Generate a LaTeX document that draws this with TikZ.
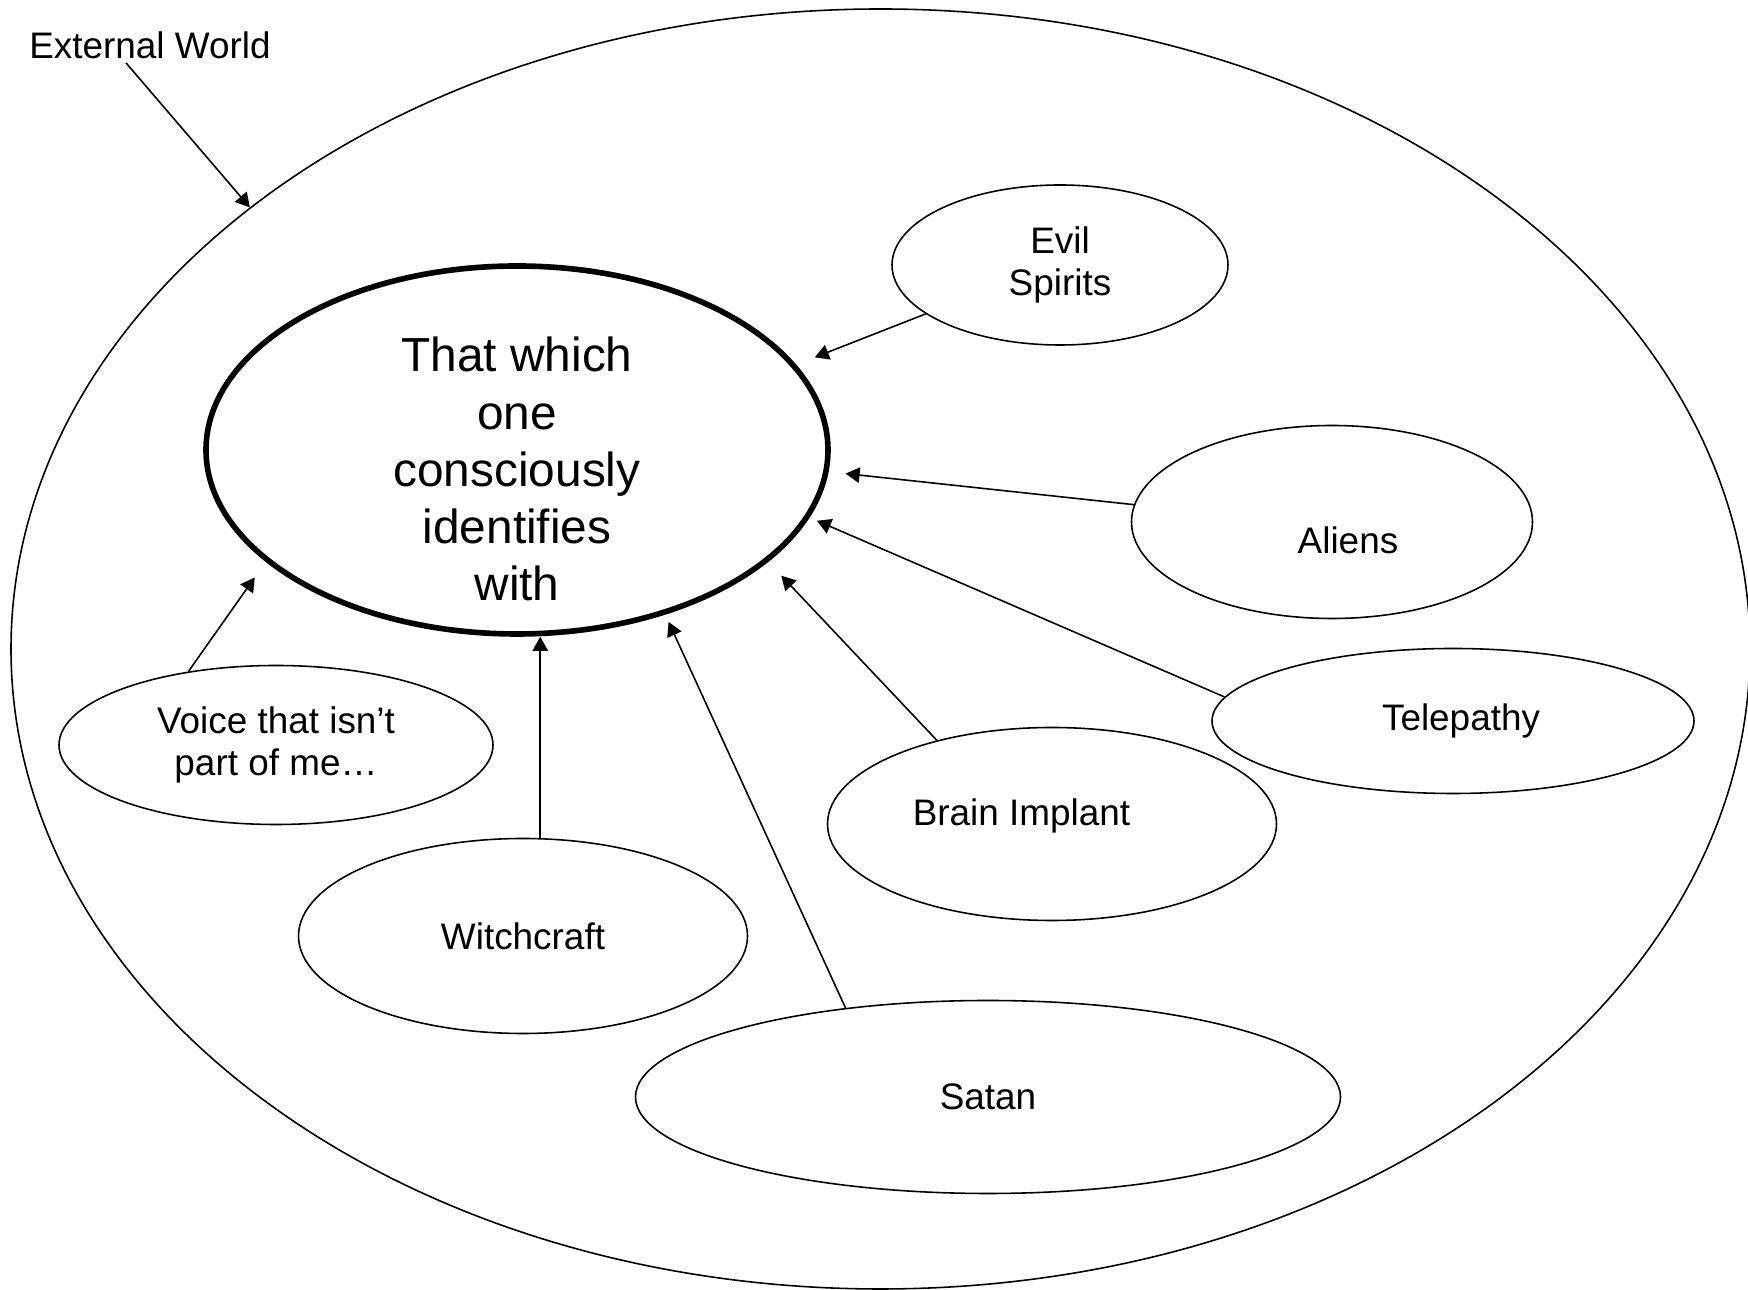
\documentclass[tikz,border=0pt]{standalone}
\usepackage{fontspec}
\setmainfont{Liberation Sans}
\usetikzlibrary{shapes.geometric, arrows.meta}

\begin{document}
\begin{tikzpicture}[>={Triangle[length=4pt, width=4.4pt]}, line width=0.45pt]
    \tikzstyle{bubble} = [ellipse, draw, align=center, inner sep=0pt, font=\fontsize{10.5}{12}\selectfont]
    \tikzstyle{identity} = [ellipse, draw, line width=1.6pt, align=center, inner xsep=0pt, inner ysep=-7pt, text height=86pt, font=\fontsize{13.6}{16.3}\selectfont]

    \useasboundingbox (0,0) rectangle (17.48,12.90);

    % Outer world
    \node [ellipse, draw, minimum width=17.39cm, minimum height=12.80cm] (world) at (8.805,6.41) {};
    \node [anchor=west, inner sep=1pt, font=\fontsize{10.5}{12}\selectfont] (extworld) at (0.25,12.45) {External World};

    % Conscious self
    \node [identity, minimum width=6.22cm, minimum height=3.68cm] (self) at (5.17,8.40) {That which\\one\\consciously\\identifies\\with};

    % Outside sources
    \node [bubble, minimum width=3.36cm, minimum height=1.60cm] (spirits) at (10.60,10.25) {Evil\\Spirits};
    \node [bubble, minimum width=4.01cm, minimum height=1.93cm, text height=17.9pt] (aliens) at (13.32,7.68) {\hspace*{0.32cm}Aliens};
    \node [bubble, minimum width=4.82cm, minimum height=1.45cm] (telepathy) at (14.53,5.69) {\hspace*{0.16cm}Telepathy};
    \node [bubble, minimum width=4.49cm, minimum height=1.93cm, text depth=7pt] (implant) at (10.52,4.66) {Brain Implant\hspace*{0.61cm}};
    \node [bubble, minimum width=4.49cm, minimum height=1.95cm] (witchcraft) at (5.23,3.54) {Witchcraft};
    \node [bubble, minimum width=7.05cm, minimum height=1.93cm] (satan) at (9.88,1.93) {Satan};
    \node [bubble, minimum width=4.34cm, minimum height=1.59cm] (voice) at (2.76,5.45) {Voice that isn’t\\part of me…};

    % Connections
    \draw [->] ([xshift=-0.24cm]extworld.south) -- (world.145.5);

    \draw [->, shorten >=0.2cm] (spirits.200) -- (self.17);
    \draw [->, shorten >=0.17cm] (aliens.175) -- (self.-4);
    \draw [->, shorten >=0.08cm] (telepathy.174.5) -- (self.-13.5);
    \draw [->, shorten >=0.19cm] (implant.144) -- (self.-24.5);
    \draw [->, shorten >=0.08cm] (satan.148) -- (self.-48);
    \draw [->] (witchcraft.80) -- (witchcraft.80 |- self.south);
    \draw [->, shorten >=0.19cm] (voice.140) -- (self.204.7);
\end{tikzpicture}
\end{document}
